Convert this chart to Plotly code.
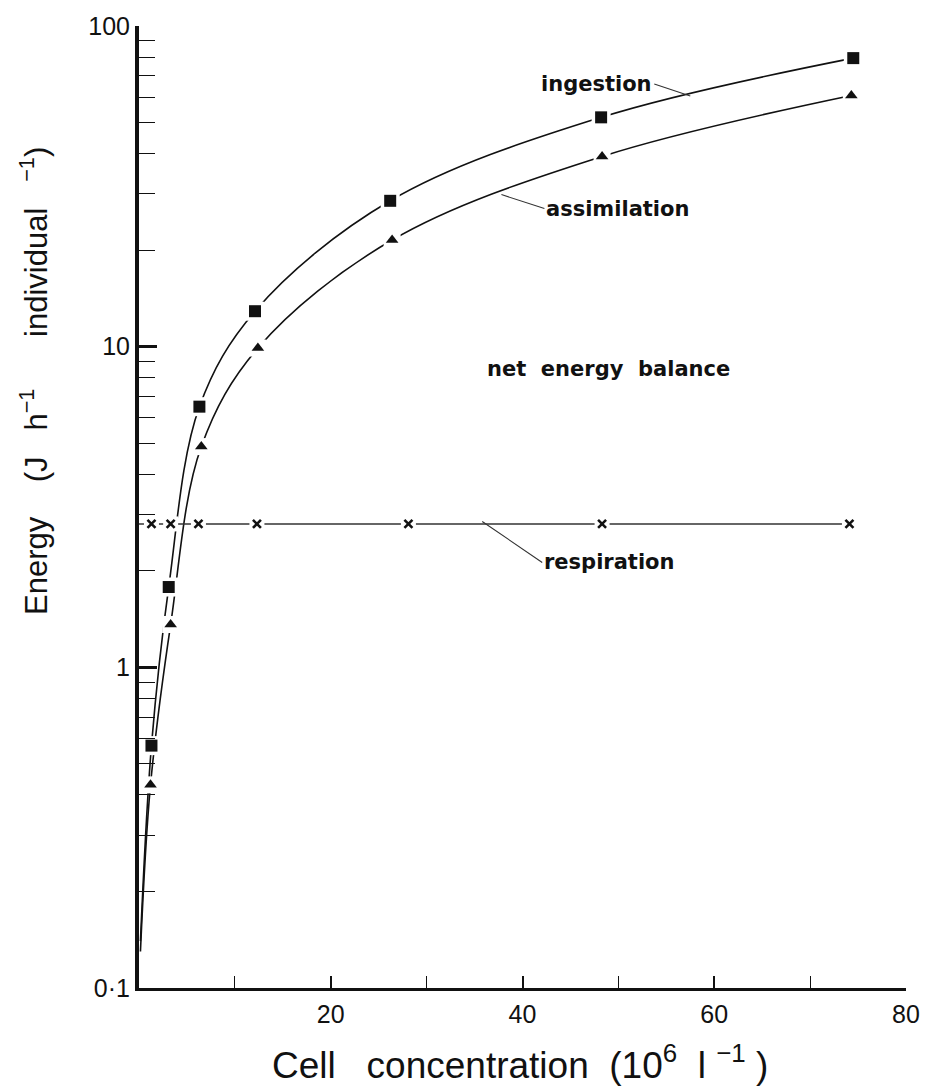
import math
import plotly.graph_objects as go

# Cell concentration (10^6 cells per litre) at which each series was measured
ingestion_x = [1.3, 3.1, 6.3, 12.1, 26.2, 48.2, 74.5]
ingestion_y = [0.57, 1.78, 6.5, 12.9, 28.5, 51.9, 79.4]

assimilation_x = [1.2, 3.3, 6.5, 12.4, 26.4, 48.3, 74.3]
assimilation_y = [0.43, 1.36, 4.88, 9.9, 21.5, 39.2, 60.7]

respiration_x = [1.3, 3.3, 6.2, 12.3, 28.1, 48.3, 74.1]
respiration_y = [2.8, 2.8, 2.8, 2.8, 2.8, 2.8, 2.8]

# lower ends of the fitted curves, near the origin
ingestion_tail = (0.15, 0.14)
assimilation_tail = (0.15, 0.13)

y_tick_vals = [0.1, 1, 10, 100]
y_tick_text = ["0·1", "1", "10", "100"]
y_minor_vals = [m * d for d in (0.1, 1, 10) for m in range(2, 10)]
x_tick_vals = [20, 40, 60, 80]
x_minor_vals = [10, 30, 50, 70]

INK = "#111111"
LABEL_FONT = dict(family="DejaVu Sans", size=21, color=INK, weight="bold")

fig = go.Figure()

# smooth fitted curves
fig.add_trace(go.Scatter(
    x=[ingestion_tail[0]] + ingestion_x, y=[ingestion_tail[1]] + ingestion_y,
    mode="lines", line=dict(shape="spline", smoothing=1.0, color=INK, width=1.6),
    hoverinfo="skip"))
fig.add_trace(go.Scatter(
    x=[assimilation_tail[0]] + assimilation_x, y=[assimilation_tail[1]] + assimilation_y,
    mode="lines", line=dict(shape="spline", smoothing=1.0, color=INK, width=1.6),
    hoverinfo="skip"))
fig.add_trace(go.Scatter(
    x=[0] + respiration_x, y=[respiration_y[0]] + respiration_y,
    mode="lines", line=dict(color="#333333", width=1.4), hoverinfo="skip"))

# white halos leave small gaps in the lines around each symbol
for xs, ys, size in ((ingestion_x, ingestion_y, 19),
                     (assimilation_x, assimilation_y, 17),
                     (respiration_x, respiration_y, 15)):
    fig.add_trace(go.Scatter(x=xs, y=ys, mode="markers",
                             marker=dict(symbol="square", size=size, color="white"),
                             hoverinfo="skip"))

fig.add_trace(go.Scatter(x=ingestion_x, y=ingestion_y, mode="markers", name="ingestion",
                         marker=dict(symbol="square", size=12, color=INK)))
fig.add_trace(go.Scatter(x=assimilation_x, y=assimilation_y, mode="markers", name="assimilation",
                         marker=dict(symbol="triangle-up", size=11, color=INK)))
fig.add_trace(go.Scatter(x=respiration_x, y=respiration_y, mode="markers", name="respiration",
                         marker=dict(symbol="x-thin", size=8,
                                     line=dict(color=INK, width=2.6))))


def on_log(v):
    # annotation positions on a log axis are given in log10 units
    return math.log10(v)


# curve labels with leader lines
fig.add_annotation(x=57.5, y=on_log(60.5), text="ingestion", showarrow=True, arrowhead=0,
                   arrowwidth=1.1, arrowcolor="#333333", ax=-36, ay=-12,
                   xanchor="right", yanchor="middle", font=LABEL_FONT)
fig.add_annotation(x=37.8, y=on_log(29.8), text="assimilation", showarrow=True, arrowhead=0,
                   arrowwidth=1.1, arrowcolor="#333333", ax=43, ay=14,
                   xanchor="left", yanchor="middle", font=LABEL_FONT)
fig.add_annotation(x=35.8, y=on_log(2.85), text="respiration", showarrow=True, arrowhead=0,
                   arrowwidth=1.1, arrowcolor="#333333", ax=60, ay=41,
                   xanchor="left", yanchor="middle", font=LABEL_FONT)
fig.add_annotation(x=61.8, y=on_log(8.5), text="net  energy  balance", showarrow=False,
                   xanchor="right", yanchor="middle", font=LABEL_FONT)

# axis titles
fig.add_annotation(xref="paper", yref="paper", x=-0.137, y=0.631,
                   text="Energy    (J   h<sup>−1</sup>      individual   <sup>−1</sup>)",
                   textangle=-90, showarrow=False, xanchor="center", yanchor="middle",
                   font=dict(family="Liberation Sans", size=31, color=INK))
fig.add_annotation(xref="paper", yref="paper", x=0.497, y=-0.0775,
                   text="Cell   concentration  (10<sup>6</sup>  l <sup>−1</sup> )",
                   showarrow=False, xanchor="center", yanchor="middle",
                   font=dict(family="Liberation Sans", size=37, color=INK))

fig.update_xaxes(
    range=[0, 80], showline=True, linewidth=3, linecolor=INK, mirror=False,
    showgrid=False, zeroline=False,
    tickvals=x_tick_vals, ticks="inside", ticklen=12, tickwidth=1.5, tickcolor=INK,
    minor=dict(tickvals=x_minor_vals, ticks="inside", ticklen=12, tickwidth=1.2, tickcolor=INK),
    ticklabelstandoff=2,
    tickfont=dict(family="Liberation Sans", size=25, color=INK))
fig.update_yaxes(
    type="log", range=[-1, 2], showline=True, linewidth=4, linecolor=INK,
    showgrid=False, zeroline=False,
    tickvals=y_tick_vals, ticktext=y_tick_text, ticks="inside", ticklen=18,
    tickwidth=3, tickcolor=INK,
    minor=dict(tickvals=y_minor_vals, ticks="inside", ticklen=16, tickwidth=1.4, tickcolor=INK),
    tickfont=dict(family="Liberation Sans", size=25, color=INK))

fig.update_layout(
    width=932, height=1090, showlegend=False,
    margin=dict(l=139, r=17, t=20, b=102),
    plot_bgcolor="white", paper_bgcolor="white")

fig.write_html("out.html")
